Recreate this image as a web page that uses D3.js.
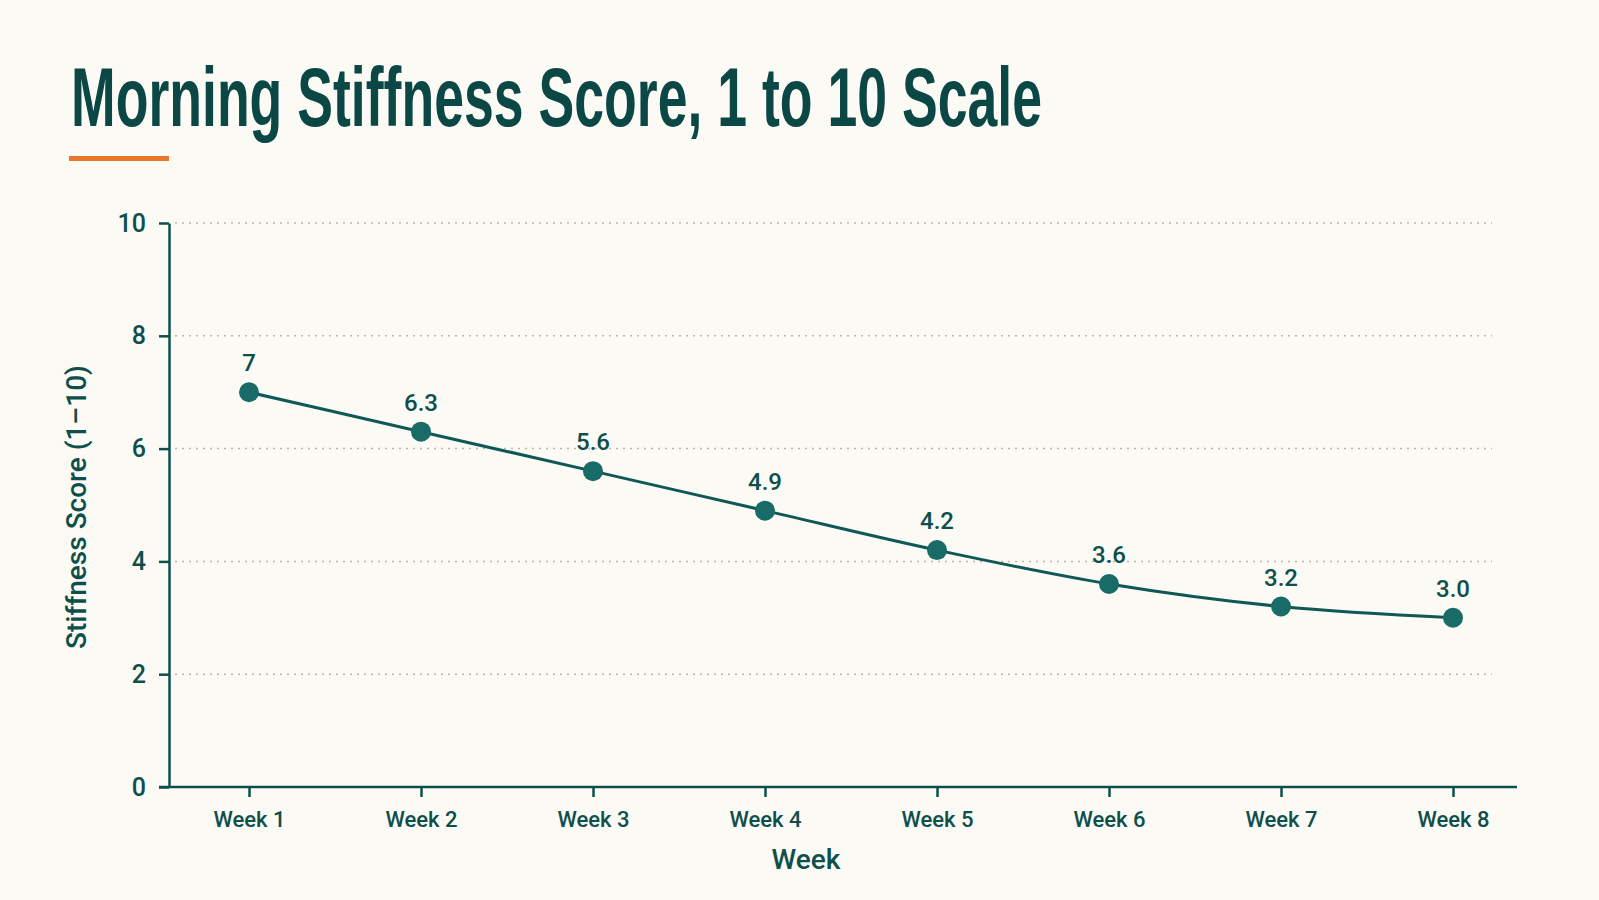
<!DOCTYPE html>
<html>
<head>
<meta charset="utf-8">
<script src="https://cdn.jsdelivr.net/npm/d3@7"></script>
<style>
  html, body { margin: 0; padding: 0; background: #fcfaf5; }
  svg { display: block; }
  .axis text { font-family: Roboto, "Liberation Sans", Arial, sans-serif; font-weight: 500; fill: #0e4f4c; }
</style>
</head>
<body>
<div id="chart"></div>
<script>
// data
var weeks = ["Week 1", "Week 2", "Week 3", "Week 4", "Week 5", "Week 6", "Week 7", "Week 8"];
var scores = [7, 6.3, 5.6, 4.9, 4.2, 3.6, 3.2, 3.0];
var scoreLabels = ["7", "6.3", "5.6", "4.9", "4.2", "3.6", "3.2", "3.0"];
var yTicks = [0, 2, 4, 6, 8, 10];

var width = 1599, height = 900;
var teal = "#0e4f4c";

var svg = d3.select("#chart").append("svg")
    .attr("width", width)
    .attr("height", height);

svg.append("rect").attr("width", width).attr("height", height).attr("fill", "#fcfaf5");

// title + accent bar
svg.append("text")
    .attr("x", 71)
    .attr("y", 126)
    .attr("textLength", 971)
    .attr("lengthAdjust", "spacingAndGlyphs")
    .style("font-family", "'Liberation Sans Narrow', 'Arial Narrow', sans-serif")
    .style("font-weight", "bold")
    .style("font-size", "84px")
    .style("fill", "#0b4744")
    .text("Morning Stiffness Score, 1 to 10 Scale");

svg.append("rect")
    .attr("x", 69).attr("y", 156)
    .attr("width", 100).attr("height", 5)
    .attr("fill", "#e8772a");

var plotLeft = 169, plotRight = 1517, gridRight = 1492;

var x = d3.scalePoint().domain(weeks).range([249, 1453]);
var y = d3.scaleLinear().domain([0, 10]).range([787, 223]);

// dotted grid
svg.append("g")
    .selectAll("line")
    .data(yTicks.filter(function(d) { return d > 0; }))
    .enter().append("line")
    .attr("x1", plotLeft + 6)
    .attr("x2", gridRight)
    .attr("y1", function(d) { return y(d); })
    .attr("y2", function(d) { return y(d); })
    .attr("stroke", "#b9b8b0")
    .attr("stroke-width", 1.5)
    .attr("stroke-dasharray", "2,5");

// y axis
var yAxis = d3.axisLeft(y).tickValues(yTicks).tickSize(10).tickSizeOuter(0).tickPadding(13);
var gy = svg.append("g")
    .attr("class", "axis")
    .attr("transform", "translate(" + plotLeft + ",0)")
    .call(yAxis);
gy.selectAll("text").style("font-size", "25px");
gy.selectAll("line").attr("stroke", teal).attr("stroke-width", 2.5);
gy.select(".domain").attr("stroke", teal).attr("stroke-width", 2.5);

// x axis
var xAxis = d3.axisBottom(x).tickSize(10).tickSizeOuter(0).tickPadding(14);
var gx = svg.append("g")
    .attr("class", "axis")
    .attr("transform", "translate(0," + y(0) + ")")
    .call(xAxis);
gx.select(".domain").remove();
gx.selectAll("line").attr("stroke", teal).attr("stroke-width", 2.5);
gx.selectAll("text").style("font-size", "22px");
gx.append("line")
    .attr("x1", plotLeft - 10).attr("x2", plotRight)
    .attr("stroke", teal).attr("stroke-width", 2.5);

// axis titles
svg.append("text")
    .attr("transform", "translate(86," + 507 + ") rotate(-90)")
    .attr("text-anchor", "middle")
    .style("font-family", "Roboto, 'Liberation Sans', Arial, sans-serif")
    .style("font-weight", "500")
    .style("font-size", "28px")
    .style("fill", teal)
    .text("Stiffness Score (1\u201310)");

svg.append("text")
    .attr("x", 806)
    .attr("y", 869)
    .attr("text-anchor", "middle")
    .style("font-family", "Roboto, 'Liberation Sans', Arial, sans-serif")
    .style("font-weight", "500")
    .style("font-size", "28px")
    .style("fill", teal)
    .text("Week");

// line
var line = d3.line()
    .x(function(d, i) { return x(weeks[i]); })
    .y(function(d) { return y(d); })
    .curve(d3.curveMonotoneX);

svg.append("path")
    .datum(scores)
    .attr("d", line)
    .attr("fill", "none")
    .attr("stroke", "#0f5855")
    .attr("stroke-width", 3);

svg.selectAll(".dot")
    .data(scores)
    .enter().append("circle")
    .attr("class", "dot")
    .attr("cx", function(d, i) { return x(weeks[i]); })
    .attr("cy", function(d) { return y(d); })
    .attr("r", 10)
    .attr("fill", "#196b68");

svg.selectAll(".val")
    .data(scores)
    .enter().append("text")
    .attr("class", "val")
    .attr("x", function(d, i) { return x(weeks[i]); })
    .attr("y", function(d) { return y(d) - 21; })
    .attr("text-anchor", "middle")
    .style("font-family", "Roboto, 'Liberation Sans', Arial, sans-serif")
    .style("font-weight", "500")
    .style("font-size", "24px")
    .style("fill", teal)
    .text(function(d, i) { return scoreLabels[i]; });
</script>
</body>
</html>
